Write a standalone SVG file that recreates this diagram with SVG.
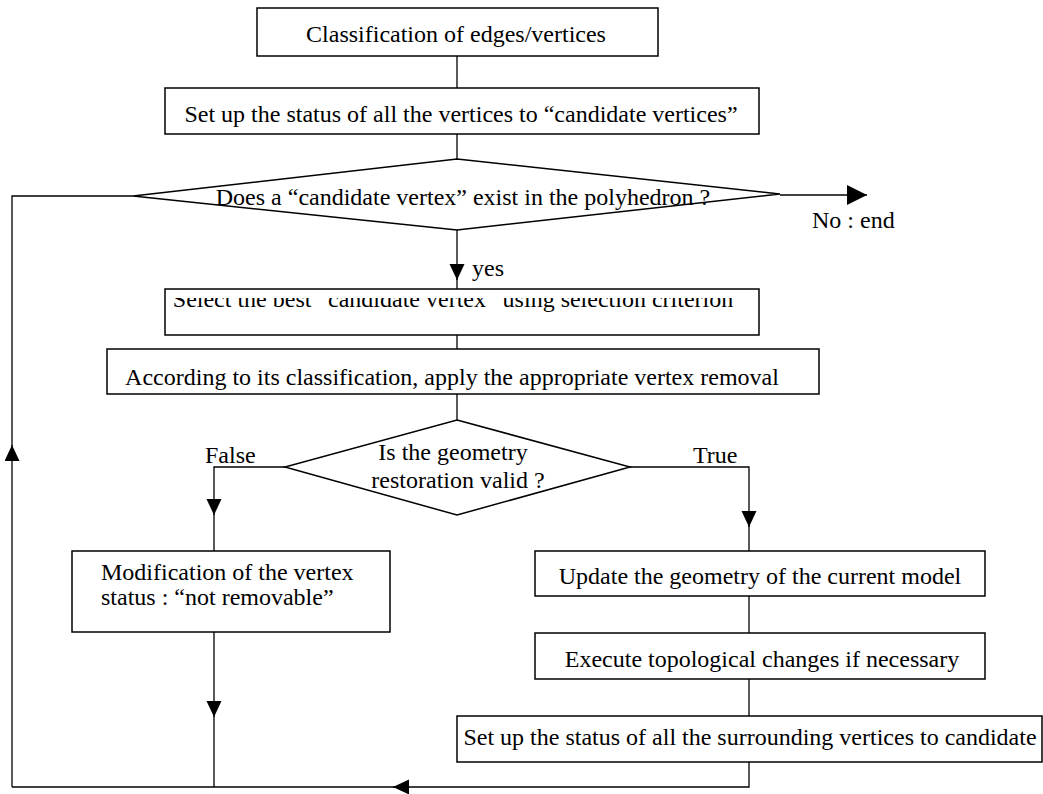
<svg xmlns="http://www.w3.org/2000/svg" width="1043" height="794" viewBox="0 0 1043 794">
<style>
.box{fill:#fff;stroke:#000;stroke-width:1.5}
.ln{fill:none;stroke:#000;stroke-width:1.3}
text{font-family:"Liberation Serif","Times New Roman",serif;font-size:24px;fill:#000}
.c{text-anchor:middle}
</style>
<defs>
<marker id="ah" markerWidth="16" markerHeight="16" refX="16" refY="7.5" orient="auto" markerUnits="userSpaceOnUse">
<path d="M0,0 L16,7.5 L0,15 Z" fill="#000"/>
</marker>
<marker id="ahb" markerWidth="20" markerHeight="20" refX="20" refY="10" orient="auto" markerUnits="userSpaceOnUse">
<path d="M0,0 L20,10 L0,20 Z" fill="#000"/>
</marker>
<clipPath id="clip3"><rect x="165" y="298" width="594" height="37"/></clipPath>
</defs>
<rect width="1043" height="794" fill="#fff"/>
<g id="connectors">
<line class="ln" x1="457" y1="56" x2="457" y2="88"/>
<line class="ln" x1="457" y1="134" x2="457" y2="159"/>
<line class="ln" x1="780" y1="195" x2="867" y2="195" marker-end="url(#ahb)"/>
<line class="ln" x1="457" y1="230" x2="457" y2="280" marker-end="url(#ah)"/>
<line class="ln" x1="457" y1="279" x2="457" y2="289"/>
<line class="ln" x1="457" y1="335" x2="457" y2="349"/>
<line class="ln" x1="457" y1="394" x2="457" y2="420"/>
<polyline class="ln" points="285,467 214,467 214,515" marker-end="url(#ah)"/>
<line class="ln" x1="214" y1="514" x2="214" y2="551"/>
<polyline class="ln" points="630,467 749,467 749,527" marker-end="url(#ah)"/>
<line class="ln" x1="749" y1="526" x2="749" y2="551"/>
<line class="ln" x1="749" y1="596" x2="749" y2="633"/>
<line class="ln" x1="749" y1="679" x2="749" y2="716"/>
<line class="ln" x1="214" y1="632" x2="214" y2="717" marker-end="url(#ah)"/>
<line class="ln" x1="214" y1="716" x2="214" y2="787"/>
<polyline class="ln" points="749,762 749,787 393,787" marker-end="url(#ah)"/>
<line class="ln" x1="394" y1="787" x2="12" y2="787"/>
<line class="ln" x1="12" y1="787" x2="12" y2="445" marker-end="url(#ah)"/>
<polyline class="ln" points="12,446 12,196 133,196"/>
<text x="812" y="228">No : end</text>
<text x="472" y="276">yes</text>
<text x="205" y="463">False</text>
<text x="693" y="463">True</text>
</g>
<g id="n1">
<rect class="box" x="257" y="8" width="401" height="48"/>
<text class="c" x="456" y="42">Classification of edges/vertices</text>
</g>
<g id="n2">
<rect class="box" x="165" y="88" width="594" height="46"/>
<text class="c" x="461" y="122">Set up the status of all the vertices to “candidate vertices”</text>
</g>
<g id="d1">
<polygon class="box" points="457,159 780,194 457,230 133,196"/>
<text class="c" x="463" y="205">Does a “candidate vertex” exist in the polyhedron ?</text>
</g>
<g id="n3">
<rect class="box" x="165" y="289" width="594" height="46"/>
<text class="c" x="453" y="307" clip-path="url(#clip3)">Select the best “candidate vertex” using selection criterion</text>
</g>
<g id="n4">
<rect class="box" x="107" y="349" width="712" height="45"/>
<text class="c" x="452" y="385">According to its classification, apply the appropriate vertex removal</text>
</g>
<g id="d2">
<polygon class="box" points="457,420 630,467 457,515 285,467"/>
<text class="c" x="453" y="460">Is the geometry</text>
<text class="c" x="458" y="488">restoration  valid ?</text>
</g>
<g id="n5">
<rect class="box" x="72" y="551" width="318" height="81"/>
<text x="101" y="580">Modification of the vertex</text>
<text x="101" y="605">status : “not removable”</text>
</g>
<g id="n6">
<rect class="box" x="535" y="551" width="450" height="45"/>
<text class="c" x="760" y="584">Update the geometry of the current model</text>
</g>
<g id="n7">
<rect class="box" x="535" y="633" width="450" height="46"/>
<text class="c" x="762" y="667">Execute topological changes if necessary</text>
</g>
<g id="n8">
<rect class="box" x="457" y="716" width="585" height="46"/>
<text class="c" x="750" y="745">Set up the status of all the surrounding vertices to candidate</text>
</g>
</svg>
